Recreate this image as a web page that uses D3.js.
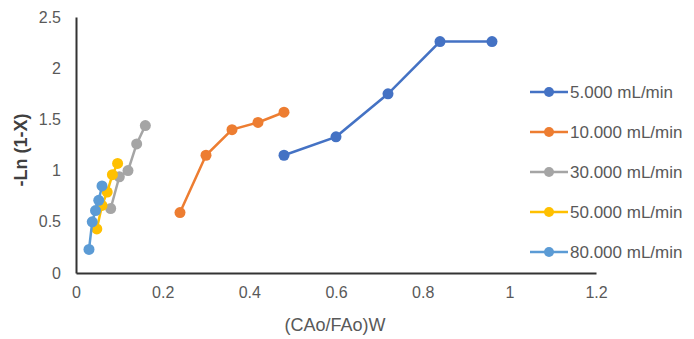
<!DOCTYPE html>
<html lang="en">
    <head>
        <meta charset="utf-8">
        <title>-Ln (1-X) vs (CAo/FAo)W</title>
        <script src="https://d3js.org/d3.v7.min.js"></script>
        <style type="text/css">
            body { margin: 0; background: #fff; overflow: hidden; }
            svg { display: block; }
            text { font-family: "Liberation Sans", Arial, sans-serif; }
        </style>
    </head>
    <body>
        <script>
            // data
            var seriesNames = ["5.000 mL/min", "10.000 mL/min", "30.000 mL/min", "50.000 mL/min", "80.000 mL/min"];
            var seriesColors = ["#4472C4", "#ED7D31", "#A5A5A5", "#FFC000", "#5B9BD5"];

            var x5 = [0.48, 0.60, 0.72, 0.84, 0.96];
            var y5 = [1.15, 1.33, 1.75, 2.26, 2.26];
            var x10 = [0.24, 0.30, 0.36, 0.42, 0.48];
            var y10 = [0.59, 1.15, 1.40, 1.47, 1.57];
            var x30 = [0.08, 0.10, 0.12, 0.14, 0.16];
            var y30 = [0.63, 0.94, 1.00, 1.26, 1.44];
            var x50 = [0.048, 0.06, 0.072, 0.084, 0.096];
            var y50 = [0.43, 0.66, 0.79, 0.96, 1.07];
            var x80 = [0.03, 0.0375, 0.045, 0.0525, 0.06];
            var y80 = [0.23, 0.50, 0.61, 0.71, 0.85];

            var xTicks = [0, 0.2, 0.4, 0.6, 0.8, 1, 1.2];
            var yTicks = [0, 0.5, 1, 1.5, 2, 2.5];

            var xs = [x5, x10, x30, x50, x80];
            var ys = [y5, y10, y30, y50, y80];
            var series = seriesNames.map(function (name, i) {
                return {
                    name: name,
                    color: seriesColors[i],
                    points: xs[i].map(function (v, j) { return { x: v, y: ys[i][j] }; })
                };
            });

            // layout
            var outerWidth = 694;
            var outerHeight = 339;
            var margin = { left: 76, top: 17, right: 98, bottom: 66 };
            var innerWidth = outerWidth - margin.left - margin.right;
            var innerHeight = outerHeight - margin.top - margin.bottom;

            var svg = d3.select("body").append("svg")
                .attr("width", outerWidth)
                .attr("height", outerHeight);

            var g = svg.append("g")
                .attr("transform", "translate(" + margin.left + "," + margin.top + ")");

            var xScale = d3.scaleLinear().domain([0, 1.2]).range([0, innerWidth]);
            var yScale = d3.scaleLinear().domain([0, 2.5]).range([innerHeight, 0]);

            // axes
            var xAxis = g.append("g")
                .attr("transform", "translate(0," + innerHeight + ")")
                .call(d3.axisBottom(xScale).tickValues(xTicks).tickSize(0).tickPadding(14)
                    .tickFormat(d3.format("")));
            var yAxis = g.append("g")
                .call(d3.axisLeft(yScale).tickValues(yTicks).tickSize(0).tickPadding(15)
                    .tickFormat(d3.format("")));

            [xAxis, yAxis].forEach(function (a) {
                a.select(".domain").attr("stroke", "#333").attr("stroke-width", 2);
                a.selectAll("text").attr("fill", "#595959").style("font-size", "16px");
            });

            // lines and markers
            var line = d3.line()
                .x(function (d) { return xScale(d.x); })
                .y(function (d) { return yScale(d.y); });

            var sg = g.selectAll(".series").data(series).enter().append("g").attr("class", "series");

            sg.append("path")
                .attr("d", function (d) { return line(d.points); })
                .attr("fill", "none")
                .attr("stroke", function (d) { return d.color; })
                .attr("stroke-width", 2.5);

            sg.selectAll("circle")
                .data(function (d) { return d.points.map(function (p) { return { p: p, c: d.color }; }); })
                .enter().append("circle")
                .attr("cx", function (d) { return xScale(d.p.x); })
                .attr("cy", function (d) { return yScale(d.p.y); })
                .attr("r", 5.5)
                .attr("fill", function (d) { return d.c; });

            // axis titles
            svg.append("text")
                .attr("x", margin.left + xScale(0.6) - 1)
                .attr("y", 331)
                .attr("text-anchor", "middle")
                .attr("fill", "#595959")
                .style("font-size", "18px")
                .text("(CAo/FAo)W");

            svg.append("text")
                .attr("transform", "translate(27,150) rotate(-90)")
                .attr("text-anchor", "middle")
                .attr("fill", "#404040")
                .style("font-size", "18px")
                .style("font-weight", "bold")
                .text("-Ln (1-X)");

            // legend
            var legend = svg.selectAll(".legend").data(series).enter().append("g")
                .attr("class", "legend")
                .attr("transform", function (d, i) { return "translate(530," + (92 + i * 40) + ")"; });

            legend.append("line")
                .attr("x1", 0).attr("x2", 38)
                .attr("stroke", function (d) { return d.color; })
                .attr("stroke-width", 2.5);
            legend.append("circle")
                .attr("cx", 19).attr("r", 5)
                .attr("fill", function (d) { return d.color; });
            legend.append("text")
                .attr("x", 40).attr("y", 6)
                .attr("fill", "#595959")
                .style("font-size", "17px")
                .text(function (d) { return d.name; });
        </script>
    </body>
</html>
